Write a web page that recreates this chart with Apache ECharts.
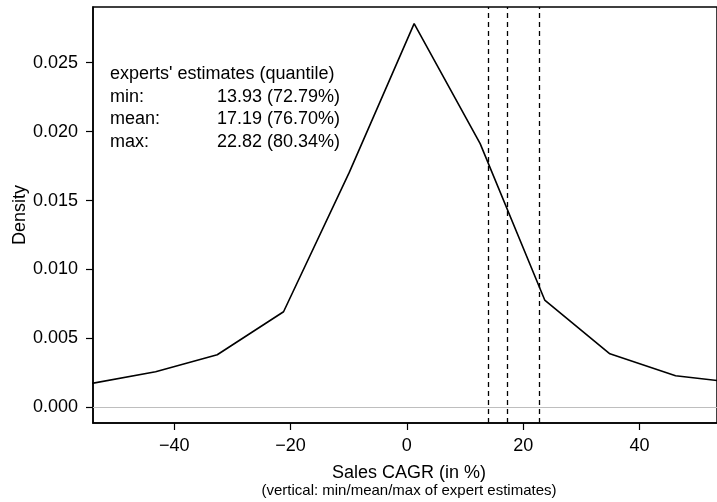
<!DOCTYPE html>
<html>
<head>
<meta charset="utf-8">
<script src="https://cdn.jsdelivr.net/npm/echarts@6/dist/echarts.min.js"></script>
<style>
html,body{margin:0;padding:0;background:#fff;}
#chart{width:717px;height:502px;}
</style>
</head>
<body>
<div id="chart"></div>
<script>
// Density curve (x = Sales CAGR in %, y = density)
var cagrValues = [-54.5, -43.2, -32.6, -21.2, -9.9, 1.25, 12.6, 23.7, 34.9, 46.2, 57.5];
var densityValues = [0.00171, 0.00258, 0.00381, 0.00693, 0.01704, 0.02783, 0.01913, 0.00778, 0.00388, 0.00229, 0.00174];
// Expert estimates (vertical lines)
var expertLabels = ['min:', 'mean:', 'max:'];
var expertValues = [13.93, 17.19, 22.82];
var expertQuantiles = ['72.79%', '76.70%', '80.34%'];
// Tick labels
var xTicks = [-40, -20, 0, 20, 40];
var yTicks = [0, 0.005, 0.010, 0.015, 0.020, 0.025];

var FONT = '"Liberation Sans", Arial, sans-serif';
var FS = 18;

var chart = echarts.init(document.getElementById('chart'), null, {renderer: 'canvas'});

var lineData = cagrValues.map(function (x, i) { return [x, densityValues[i]]; });

function txt(s, x, y, align, size, rot) {
  var g = {type: 'text', x: x, y: y,
    style: {text: s, fill: '#000', fontSize: size || FS, fontFamily: FONT,
            textAlign: align, textVerticalAlign: 'middle', align: align, verticalAlign: 'middle'}};
  if (rot) g.rotation = rot;
  return g;
}

var graphics = [
  txt('Density', 20, 215, 'center', FS, Math.PI / 2),
  txt('Sales CAGR (in %)', 409, 473, 'center'),
  txt('(vertical: min/mean/max of expert estimates)', 409, 491, 'center', 15),
  txt("experts' estimates (quantile)", 110, 74, 'left')
];
expertLabels.forEach(function (lab, i) {
  var y = 97 + i * 22.3;
  graphics.push(txt(lab, 110, y, 'left'));
  graphics.push(txt(expertValues[i].toFixed(2) + ' (' + expertQuantiles[i] + ')', 340, y, 'right'));
});

var option = {
  backgroundColor: '#fff',
  animation: false,
  grid: {left: 93, top: 7, width: 628, height: 416, show: true, borderColor: '#000', borderWidth: 1.5, backgroundColor: 'transparent'},
  xAxis: {
    type: 'value', min: -53.96, max: 53.32,
    splitLine: {show: false},
    axisLine: {show: true, onZero: false, lineStyle: {color: '#000', width: 1.5}},
    axisTick: {show: true, inside: false, length: 7, lineStyle: {color: '#000', width: 1.2}, customValues: xTicks},
    axisLabel: {show: true, color: '#000', fontSize: FS, fontFamily: FONT, margin: 14, customValues: xTicks,
      formatter: function (v) { return String(v).replace('-', '\u2212'); }}
  },
  yAxis: {
    type: 'value', min: -0.001139, max: 0.02904,
    splitLine: {show: false},
    axisLine: {show: true, onZero: false, lineStyle: {color: '#000', width: 1.5}},
    axisTick: {show: true, inside: false, length: 7, lineStyle: {color: '#000', width: 1.2}, customValues: yTicks},
    axisLabel: {show: true, color: '#000', fontSize: FS, fontFamily: FONT, margin: 15, padding: [3, 0, 0, 0], customValues: yTicks,
      formatter: function (v) { return Number(v).toFixed(3); }}
  },
  series: [
    {
      type: 'line', data: lineData, symbol: 'none', clip: true, silent: true,
      lineStyle: {color: '#000', width: 1.6},
      markLine: {
        silent: true, symbol: 'none', label: {show: false},
        data: [{yAxis: 0, lineStyle: {color: '#bebebe', width: 1, type: 'solid'}}].concat(
          expertValues.map(function (v) {
            return {xAxis: v, lineStyle: {color: '#000', width: 1.3, type: [5, 4]}};
          }))
      }
    }
  ],
  graphic: graphics
};
chart.setOption(option);
</script>
</body>
</html>
